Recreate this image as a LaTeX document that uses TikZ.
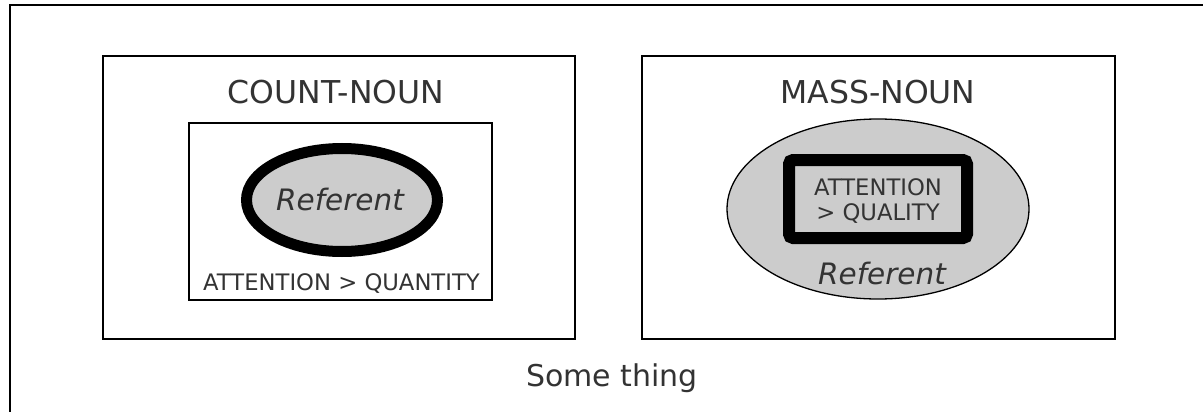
\documentclass[tikz,border=0pt]{standalone}
\usepackage{fontspec}
\setmainfont{DejaVu Sans}
\usetikzlibrary{shapes.geometric}
\definecolor{inkgray}{HTML}{333333}
\definecolor{fillgray}{HTML}{CCCCCC}
\tikzset{
  panel/.style={draw=black, line width=1.3pt, rectangle, inner sep=0pt},
  title/.style={text=inkgray, font=\fontsize{31.5}{35}\selectfont, anchor=base, inner sep=0pt},
  caption/.style={text=inkgray, font=\fontsize{30}{34}\selectfont, anchor=base, inner sep=0pt},
  label/.style={text=inkgray, font=\fontsize{22.7}{25}\selectfont, anchor=base, inner sep=0pt},
  reftext/.style={text=inkgray, font=\fontsize{29.5}{33}\selectfont\itshape, anchor=base, inner sep=0pt},
}
\begin{document}
\begin{tikzpicture}[x=1pt,y=-1pt]
\useasboundingbox (0,0) rectangle (1203,412);
\clip (0,0) rectangle (1203,412);

% outer frame, running past the right and lower edges
\node[panel, line width=1.6pt, minimum width=1240pt, minimum height=460pt, anchor=north west] (frame) at (9,4) {};

% count-noun panel
\node[panel, minimum width=472pt, minimum height=283pt] (count) at (339,197.5) {};
\node[title] (countT) at (336,103) {COUNT-NOUN};
\node[panel, line width=1.2pt, minimum width=303pt, minimum height=177pt] (countIn) at (340.5,211.5) {};
\node[ellipse, draw=black, fill=fillgray, line width=11pt, minimum width=191pt, minimum height=103pt, inner sep=0pt] (countE) at (342,200) {};
\node[reftext] (countR) at (340,210) {Referent};
\node[label] (countA) at (341.5,290) {ATTENTION > QUANTITY};

% mass-noun panel
\node[panel, minimum width=473pt, minimum height=283pt] (mass) at (878.5,197.5) {};
\node[title] (massT) at (878,103) {MASS-NOUN};
\node[ellipse, draw=black, fill=fillgray, line width=1.3pt, minimum width=302pt, minimum height=180pt, inner sep=0pt] (massE) at (878,209) {};
\node[rectangle, draw=black, fill=fillgray, line width=12pt, rounded corners=4pt, minimum width=178pt, minimum height=78pt, inner sep=0pt] (massBox) at (878,199) {};
\node[label] (massA1) at (878,195) {ATTENTION};
\node[label] (massA2) at (878,220) {> QUALITY};
\node[reftext] (massR) at (882,284) {Referent};

% caption of the whole frame
\node[caption] (thing) at (612,386) {Some thing};
\end{tikzpicture}
\end{document}
